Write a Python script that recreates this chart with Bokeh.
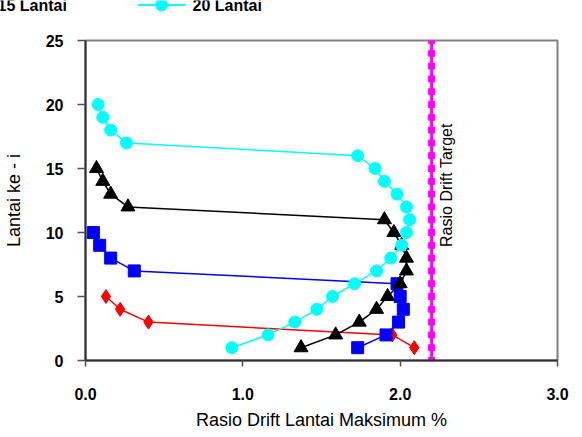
import math
from bokeh.plotting import figure
from bokeh.layouts import column
from bokeh.models import Range1d, Label, FixedTicker, PrintfTickFormatter
from bokeh.core.properties import value
from bokeh.embed import file_html
from bokeh.resources import INLINE

# ---- data (maximum storey drift ratio %, per floor) ----
floors_5 = [1, 2, 3, 4, 5]
drift_5 = [2.09, 1.95, 0.40, 0.22, 0.13]

floors_10 = [1, 2, 3, 4, 5, 6, 7, 8, 9, 10]
drift_10 = [1.73, 1.91, 1.99, 2.02, 2.00, 1.98, 0.31, 0.16, 0.09, 0.05]

floors_15 = [1, 2, 3, 4, 5, 6, 7, 8, 9, 10, 11, 12, 13, 14, 15]
drift_15 = [1.37, 1.59, 1.74, 1.85, 1.92, 2.00, 2.04, 2.04, 2.01, 1.96, 1.90, 0.27, 0.16, 0.11, 0.07]

floors_20 = [1, 2, 3, 4, 5, 6, 7, 8, 9, 10, 11, 12, 13, 14, 15, 16, 17, 18, 19, 20]
drift_20 = [0.93, 1.16, 1.33, 1.47, 1.57, 1.71, 1.85, 1.94, 2.01, 2.04, 2.06, 2.04,
            1.98, 1.90, 1.84, 1.73, 0.26, 0.16, 0.11, 0.08]

target_floors = [0, 1, 2, 3, 4, 5, 6, 7, 8, 9, 10, 11, 12, 13, 14, 15, 16, 17, 18, 19,
                 20, 21, 22, 23, 24, 25]
target_drift = [2.2] * len(target_floors)

x_ticks = [0.0, 1.0, 2.0, 3.0]
y_ticks = [0, 5, 10, 15, 20, 25]

legend_labels = ["15 Lantai", "20 Lantai"]
legend_colors = ["black", "#00FFFF"]
legend_markers = ["triangle", "circle"]

FONT = "Liberation Sans"
STRIP_H = 20

# ---------------- main chart ----------------
p = figure(width=582, height=437 - STRIP_H, output_backend="svg", toolbar_location=None,
           x_range=Range1d(0, 3), y_range=Range1d(0, 25),
           min_border_left=85, min_border_right=25, min_border_top=40 - STRIP_H,
           min_border_bottom=77)
p.frame_align = False
p.background_fill_color = "white"
p.border_fill_color = "white"
p.xgrid.visible = False
p.ygrid.visible = False
p.outline_line_color = "#808080"
p.outline_line_width = 2

p.xaxis.ticker = FixedTicker(ticks=x_ticks)
p.xaxis.formatter = PrintfTickFormatter(format="%.1f")
p.yaxis.ticker = FixedTicker(ticks=y_ticks)
for ax in (p.xaxis, p.yaxis):
    ax.axis_line_color = "#303030"
    ax.axis_line_width = 2
    ax.major_tick_line_color = "#505050"
    ax.major_tick_line_width = 1.5
    ax.major_tick_in = 0
    ax.minor_tick_line_color = None
    ax.major_label_text_font = FONT
    ax.major_label_text_font_style = "bold"
    ax.major_label_text_font_size = "16px"
    ax.major_label_text_color = "black"
    ax.axis_label_text_font = FONT
    ax.axis_label_text_font_style = "normal"
    ax.axis_label_text_font_size = "18px"
    ax.axis_label_text_color = "black"
p.yaxis.major_tick_out = 8
p.yaxis.major_label_standoff = 14
p.xaxis.major_tick_out = 6
p.xaxis.major_label_standoff = 21
p.xaxis.axis_label = "Rasio Drift Lantai Maksimum %"
p.xaxis.axis_label_standoff = 7
p.yaxis.axis_label = "Lantai ke - i"
p.yaxis.axis_label_standoff = 19

p.line(drift_5, floors_5, line_color="#FF0000", line_width=1.5)
p.scatter(drift_5, floors_5, marker="diamond", size=14, fill_color="#FF0000", line_color="#FF0000")
p.line(drift_10, floors_10, line_color="#0000FF", line_width=1.5)
p.scatter(drift_10, floors_10, marker="square", size=12, fill_color="#0000FF", line_color="#0000FF")
p.line(drift_15, floors_15, line_color="black", line_width=1.5)
p.scatter(drift_15, floors_15, marker="triangle", size=14, fill_color="black", line_color="black")
p.line(drift_20, floors_20, line_color="#00FFFF", line_width=1.5)
p.scatter(drift_20, floors_20, marker="circle", size=12, fill_color="#00FFFF", line_color="#00FFFF")

p.line(target_drift, target_floors, line_color="#FF00FF", line_width=3)
p.scatter(target_drift, target_floors, marker="square", size=6, fill_color="#FF00FF", line_color="#FF00FF")

p.add_layout(Label(x=2.2, y=13.7, x_offset=15, angle=math.pi / 2, text="Rasio Drift Target",
                   text_align="center", text_baseline="middle", text_font=FONT,
                   text_font_size="16px", text_color="black"))

# ---------------- legend strip (top of the picture, cut at the left edge) ----------------
leg = figure(width=582, height=STRIP_H, output_backend="svg", toolbar_location=None,
             x_range=Range1d(0, 582), y_range=Range1d(STRIP_H, 0),
             x_axis_location=None, y_axis_location=None,
             min_border=0, min_border_left=0, min_border_right=0,
             min_border_top=0, min_border_bottom=0)
leg.frame_align = False
leg.xgrid.visible = False
leg.ygrid.visible = False
leg.outline_line_color = None
leg.background_fill_color = "white"
leg.border_fill_color = "white"

# legend layout (pixels): first item starts left of the visible area
ITEM_START = -58
GLYPH_W = 48
STANDOFF = 7
LABEL_W = 121
SPACING = 19
ROW_Y = 4.5
for i, (lab, col, mk) in enumerate(zip(legend_labels, legend_colors, legend_markers)):
    x0 = ITEM_START + i * (GLYPH_W + STANDOFF + LABEL_W + SPACING)
    leg.line([x0, x0 + GLYPH_W], [ROW_Y, ROW_Y], line_color=col, line_width=2)
    leg.scatter([x0 + GLYPH_W / 2], [ROW_Y], marker=mk, size=12, fill_color=col, line_color=col)
    leg.text([x0 + GLYPH_W + STANDOFF], [ROW_Y], text=[lab], text_font=value(FONT),
             text_font_style="bold", text_font_size="16px", text_color="black",
             text_baseline="middle", text_align="left")

layout = column(leg, p, spacing=0)
open("out.html", "w").write(file_html(layout, INLINE))
